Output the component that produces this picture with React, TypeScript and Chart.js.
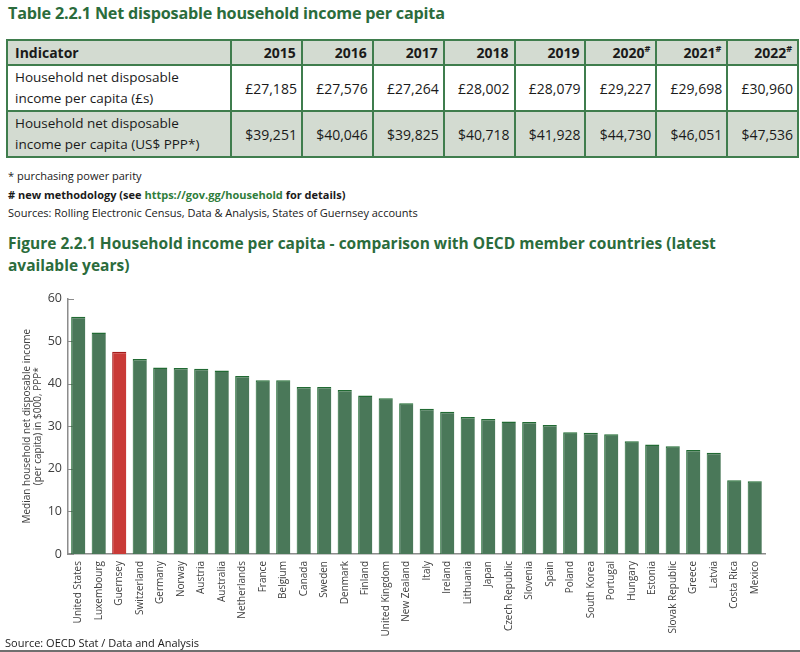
import React, { useEffect, useRef } from "react";
import { Chart, registerables } from "chart.js";

Chart.register(...registerables);

const years = ["2015", "2016", "2017", "2018", "2019", "2020", "2021", "2022"];
const newMethodology = [false, false, false, false, false, true, true, true];
const gbpValues = ["£27,185", "£27,576", "£27,264", "£28,002", "£28,079", "£29,227", "£29,698", "£30,960"];
const usdValues = ["$39,251", "$40,046", "$39,825", "$40,718", "$41,928", "$44,730", "$46,051", "$47,536"];

const countries = [
  "United States", "Luxembourg", "Guernsey", "Switzerland", "Germany", "Norway", "Austria",
  "Australia", "Netherlands", "France", "Belgium", "Canada", "Sweden", "Denmark", "Finland",
  "United Kingdom", "New Zealand", "Italy", "Ireland", "Lithuania", "Japan", "Czech Republic",
  "Slovenia", "Spain", "Poland", "South Korea", "Portugal", "Hungary", "Estonia",
  "Slovak Republic", "Greece", "Latvia", "Costa Rica", "Mexico",
];
const incomes = [
  55.7, 52.0, 47.5, 45.8, 43.8, 43.7, 43.5,
  43.1, 41.8, 40.8, 40.8, 39.2, 39.2, 38.5, 37.2,
  36.6, 35.4, 34.1, 33.4, 32.2, 31.7, 31.1,
  31.0, 30.3, 28.6, 28.5, 28.1, 26.5, 25.7,
  25.3, 24.4, 23.8, 17.3, 17.1,
];
const highlightCountry = "Guernsey";
const yTicks = [0, 10, 20, 30, 40, 50, 60];

const GREEN_TEXT = "#2b6c3c";
const BORDER_GREEN = "#3f7d4d";
const HEAD_BG = "#d3dbd1";
const FONT = "'Open Sans', 'Noto Sans', sans-serif";

const innerTicks = {
  id: "innerTicks",
  beforeDatasetsDraw(chart: any) {
    const y = chart.scales.y;
    const ctx = chart.ctx;
    const left = chart.chartArea.left;
    ctx.save();
    ctx.strokeStyle = "#8c8c8c";
    ctx.lineWidth = 1;
    y.ticks.forEach((t: any) => {
      const py = Math.round(y.getPixelForValue(t.value)) + 0.5;
      ctx.beginPath();
      ctx.moveTo(left, py);
      ctx.lineTo(left + 6, py);
      ctx.stroke();
    });
    ctx.restore();
  },
};

function BarChart() {
  const ref = useRef<HTMLCanvasElement | null>(null);
  useEffect(() => {
    if (!ref.current) return;
    const chart = new Chart(ref.current, {
      type: "bar",
      data: {
        labels: countries,
        datasets: [
          {
            data: incomes,
            backgroundColor: countries.map((c) => (c === highlightCountry ? "#c93a37" : "#4a7859")),
            borderColor: countries.map((c) => (c === highlightCountry ? "#a51c1c" : "#216a33")),
            borderWidth: { top: 1.5, left: 1, right: 0, bottom: 0 } as any,
            barPercentage: 0.69,
            categoryPercentage: 1,
          },
        ],
      },
      options: {
        responsive: false,
        animation: false,
        layout: { padding: { top: 8, right: 35, left: 0, bottom: 0 } },
        plugins: { legend: { display: false }, tooltip: { enabled: false } },
        scales: {
          x: {
            grid: { display: false, drawTicks: false },
            border: { display: true, color: "#8c8c8c", width: 1.5 },
            ticks: {
              autoSkip: false,
              minRotation: 90,
              maxRotation: 90,
              padding: 7,
              color: "#404040",
              font: { family: FONT, size: 10 },
            },
            afterFit: (s: any) => {
              s.height = 91;
            },
          },
          y: {
            min: 0,
            max: 60,
            afterBuildTicks: (s: any) => {
              s.ticks = yTicks.map((v) => ({ value: v }));
            },
            grid: { display: false, drawTicks: false },
            border: { display: true, color: "#8c8c8c", width: 1.5 },
            ticks: {
              padding: 6,
              color: "#404040",
              font: { family: FONT, size: 12.5 },
            },
            title: {
              display: true,
              text: ["Median household net disposable income", "(per capita) in $000, PPP*"],
              color: "#404040",
              font: { family: FONT, size: 10, lineHeight: 1.15 },
              padding: { top: 21, bottom: 0 },
            },
            afterFit: (s: any) => {
              s.width = 68;
            },
          },
        },
      },
      plugins: [innerTicks],
    });
    return () => chart.destroy();
  }, []);
  return <canvas ref={ref} width={800} height={360} style={{ width: 800, height: 360, display: "block" }} />;
}

export default function App() {
  const cellBorder = `2px solid ${BORDER_GREEN}`;
  const thBase: React.CSSProperties = {
    border: cellBorder,
    background: HEAD_BG,
    fontWeight: 700,
    textAlign: "right",
    padding: "0 5px",
    height: 23,
    fontSize: 14,
  };
  const tdNum: React.CSSProperties = {
    border: cellBorder,
    textAlign: "right",
    padding: "0 4px",
    fontSize: 14,
  };
  const tdLabel: React.CSSProperties = {
    border: cellBorder,
    textAlign: "left",
    padding: "0 7px",
    fontSize: 13.5,
    lineHeight: "21px",
  };
  return (
    <div
      style={{
        position: "absolute",
        left: 0,
        top: 0,
        width: 800,
        height: 652,
        background: "#fff",
        fontFamily: FONT,
        color: "#1a1a1a",
        overflow: "hidden",
      }}
    >
      <div
        style={{
          position: "absolute",
          left: 8,
          top: 2,
          fontSize: 16.2,
          fontWeight: 700,
          color: GREEN_TEXT,
          letterSpacing: -0.2,
          whiteSpace: "nowrap",
        }}
      >
        Table 2.2.1 Net disposable household income per capita
      </div>

      <table
        style={{
          position: "absolute",
          left: 6,
          top: 39,
          width: 791,
          borderCollapse: "collapse",
          tableLayout: "fixed",
          fontFamily: FONT,
          color: "#1a1a1a",
        }}
      >
        <colgroup>
          <col style={{ width: 224 }} />
          {years.map((y) => (
            <col key={y} style={{ width: 70.9 }} />
          ))}
        </colgroup>
        <thead>
          <tr>
            <th style={{ ...thBase, textAlign: "left", padding: "0 7px" }}>Indicator</th>
            {years.map((y, i) => (
              <th key={y} style={thBase}>
                {y}
                {newMethodology[i] ? (
                  <sup style={{ fontSize: 9, lineHeight: 0, verticalAlign: "6px" }}>#</sup>
                ) : null}
              </th>
            ))}
          </tr>
        </thead>
        <tbody>
          <tr style={{ height: 46 }}>
            <td style={tdLabel}>
              Household net disposable
              <br />
              income per capita (£s)
            </td>
            {gbpValues.map((v, i) => (
              <td key={i} style={tdNum}>
                {v}
              </td>
            ))}
          </tr>
          <tr style={{ height: 46, background: HEAD_BG }}>
            <td style={tdLabel}>
              Household net disposable
              <br />
              income per capita (US$ PPP*)
            </td>
            {usdValues.map((v, i) => (
              <td key={i} style={tdNum}>
                {v}
              </td>
            ))}
          </tr>
        </tbody>
      </table>

      <div style={{ position: "absolute", left: 8, top: 167, fontSize: 11, lineHeight: "18.5px", whiteSpace: "nowrap" }}>
        <div>* purchasing power parity</div>
        <div style={{ fontWeight: 700 }}>
          # new methodology (see <span style={{ color: "#2f7d3b" }}>https://gov.gg/household</span> for details)
        </div>
        <div>Sources: Rolling Electronic Census, Data &amp; Analysis, States of Guernsey accounts</div>
      </div>

      <div
        style={{
          position: "absolute",
          left: 8,
          top: 232,
          width: 790,
          fontSize: 15.5,
          lineHeight: "22px",
          fontWeight: 700,
          color: GREEN_TEXT,
          whiteSpace: "nowrap",
        }}
      >
        Figure 2.2.1 Household income per capita - comparison with OECD member countries (latest
        <br />
        available years)
      </div>

      <div style={{ position: "absolute", left: 0, top: 285, width: 800, height: 360 }}>
        <BarChart />
      </div>

      <div style={{ position: "absolute", left: 5, top: 635, fontSize: 11, color: "#1a1a1a", whiteSpace: "nowrap" }}>
        Source: OECD Stat / Data and Analysis
      </div>
      <div style={{ position: "absolute", left: 0, top: 650, width: 800, height: 2, background: "#6f6f6f" }} />
    </div>
  );
}
